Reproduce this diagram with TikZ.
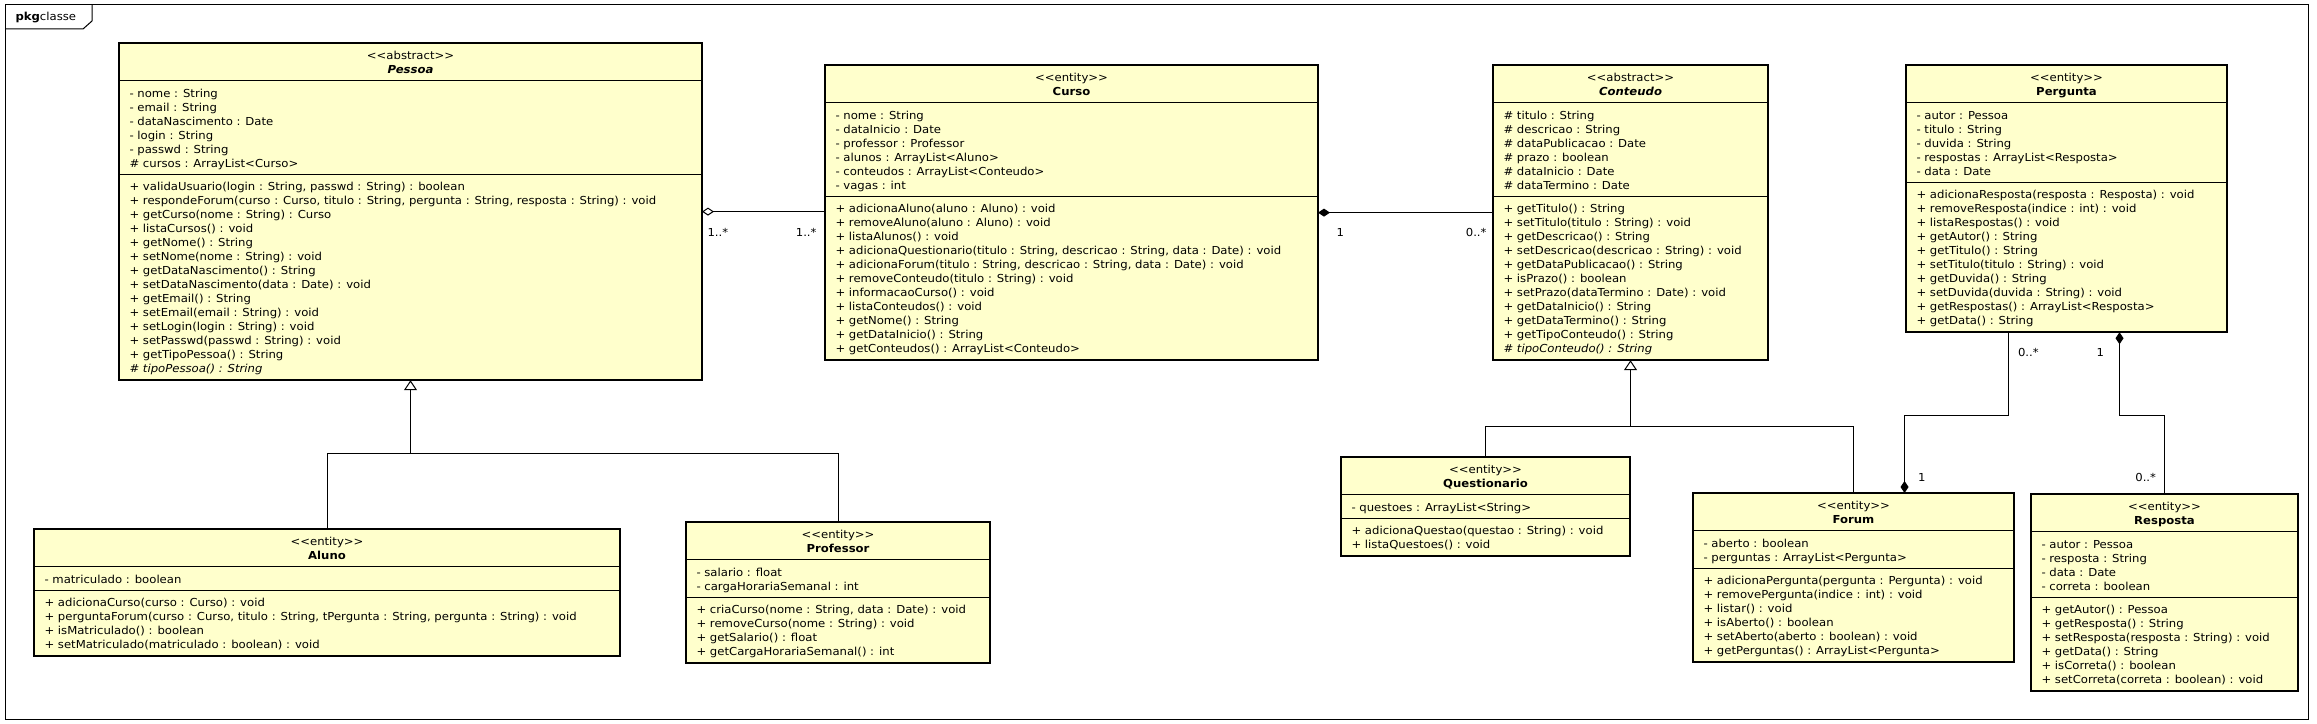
\documentclass[tikz,border=0pt]{standalone}
\usepackage{fontspec}
\usepackage{array}
\newfontfamily\umlfont{DejaVu Sans}[FakeStretch=1.06]
\usetikzlibrary{shapes.multipart,arrows.meta,positioning}

\definecolor{classfill}{RGB}{255,255,204}
\renewcommand{\arraystretch}{0}
\newcommand{\lstrut}{\rule[-2.5bp]{0pt}{14bp}}
\newcommand{\stereo}[1]{<\kern0pt<#1>\kern0pt>}
\newcommand{\hdr}[2]{\begin{tabular}{@{}>{\lstrut}c@{}}\stereo{#1}\\\textbf{#2}\end{tabular}}
\newcommand{\rows}[1]{\begin{tabular}{@{}>{\lstrut}l@{}}#1\end{tabular}}

\tikzset{
  umlclass/.style={rectangle split, rectangle split parts=3, draw, fill=classfill,
    anchor=north west, inner xsep=10bp, inner ysep=4.2bp,
    rectangle split part align={center,left,left}},
  mult/.style={inner sep=0pt},
  inherit/.style={-{Triangle[open,length=10bp,width=13bp]}},
  aggr/.style={{Diamond[open,length=12bp,width=8bp]}-},
  compo/.style={{Diamond[length=12bp,width=8bp]}-},
}

\begin{document}
\begin{tikzpicture}[x=1bp, y=-1bp, line width=1bp, font=\umlfont\fontsize{11bp}{14bp}\selectfont]
\useasboundingbox (0,0) rectangle (2317,724);

% package frame
\draw (5,5) rectangle (2308,719);
\draw (5,29) -- (83,29) -- (92,21) -- (92,5);
\node [anchor=west, inner sep=0pt] (pkg) at (15,18) {\textbf{pkg}classe};

% classes
\node [umlclass, minimum width=582bp] (pessoa) at (119,43)
  {\hdr{abstract}{\textit{Pessoa}}
   \nodepart{two}\rows{- nome : String\\- email : String\\- dataNascimento : Date\\- login : String\\- passwd : String\\\# cursos : ArrayList<Curso>}
   \nodepart{three}\rows{+ validaUsuario(login : String, passwd : String) : boolean\\
     + respondeForum(curso : Curso, titulo : String, pergunta : String, resposta : String) : void\\
     + getCurso(nome : String) : Curso\\+ listaCursos() : void\\+ getNome() : String\\
     + setNome(nome : String) : void\\+ getDataNascimento() : String\\
     + setDataNascimento(data : Date) : void\\+ getEmail() : String\\
     + setEmail(email : String) : void\\+ setLogin(login : String) : void\\
     + setPasswd(passwd : String) : void\\+ getTipoPessoa() : String\\
     \textit{\# tipoPessoa() : String}}};

\node [umlclass, minimum width=492bp] (curso) at (825,65)
  {\hdr{entity}{Curso}
   \nodepart{two}\rows{- nome : String\\- dataInicio : Date\\- professor : Professor\\- alunos : ArrayList<Aluno>\\- conteudos : ArrayList<Conteudo>\\- vagas : int}
   \nodepart{three}\rows{+ adicionaAluno(aluno : Aluno) : void\\+ removeAluno(aluno : Aluno) : void\\
     + listaAlunos() : void\\
     + adicionaQuestionario(titulo : String, descricao : String, data : Date) : void\\
     + adicionaForum(titulo : String, descricao : String, data : Date) : void\\
     + removeConteudo(titulo : String) : void\\+ informacaoCurso() : void\\
     + listaConteudos() : void\\+ getNome() : String\\+ getDataInicio() : String\\
     + getConteudos() : ArrayList<Conteudo>}};

\node [umlclass, minimum width=274bp] (conteudo) at (1493,65)
  {\hdr{abstract}{\textit{Conteudo}}
   \nodepart{two}\rows{\# titulo : String\\\# descricao : String\\\# dataPublicacao : Date\\\# prazo : boolean\\\# dataInicio : Date\\\# dataTermino : Date}
   \nodepart{three}\rows{+ getTitulo() : String\\+ setTitulo(titulo : String) : void\\
     + getDescricao() : String\\+ setDescricao(descricao : String) : void\\
     + getDataPublicacao() : String\\+ isPrazo() : boolean\\
     + setPrazo(dataTermino : Date) : void\\+ getDataInicio() : String\\
     + getDataTermino() : String\\+ getTipoConteudo() : String\\
     \textit{\# tipoConteudo() : String}}};

\node [umlclass, minimum width=320bp] (pergunta) at (1906,65)
  {\hdr{entity}{Pergunta}
   \nodepart{two}\rows{- autor : Pessoa\\- titulo : String\\- duvida : String\\- respostas : ArrayList<Resposta>\\- data : Date}
   \nodepart{three}\rows{+ adicionaResposta(resposta : Resposta) : void\\
     + removeResposta(indice : int) : void\\+ listaRespostas() : void\\
     + getAutor() : String\\+ getTitulo() : String\\+ setTitulo(titulo : String) : void\\
     + getDuvida() : String\\+ setDuvida(duvida : String) : void\\
     + getRespostas() : ArrayList<Resposta>\\+ getData() : String}};

\node [umlclass, minimum width=585bp] (aluno) at (34,529)
  {\hdr{entity}{Aluno}
   \nodepart{two}\rows{- matriculado : boolean}
   \nodepart{three}\rows{+ adicionaCurso(curso : Curso) : void\\
     + perguntaForum(curso : Curso, titulo : String, tPergunta : String, pergunta : String) : void\\
     + isMatriculado() : boolean\\+ setMatriculado(matriculado : boolean) : void}};

\node [umlclass, minimum width=303bp] (professor) at (686,522)
  {\hdr{entity}{Professor}
   \nodepart{two}\rows{- salario : float\\- cargaHorariaSemanal : int}
   \nodepart{three}\rows{+ criaCurso(nome : String, data : Date) : void\\
     + removeCurso(nome : String) : void\\+ getSalario() : float\\
     + getCargaHorariaSemanal() : int}};

\node [umlclass, minimum width=288bp] (questionario) at (1341,457)
  {\hdr{entity}{Questionario}
   \nodepart{two}\rows{- questoes : ArrayList<String>}
   \nodepart{three}\rows{+ adicionaQuestao(questao : String) : void\\+ listaQuestoes() : void}};

\node [umlclass, minimum width=320bp] (forum) at (1693,493)
  {\hdr{entity}{Forum}
   \nodepart{two}\rows{- aberto : boolean\\- perguntas : ArrayList<Pergunta>}
   \nodepart{three}\rows{+ adicionaPergunta(pergunta : Pergunta) : void\\
     + removePergunta(indice : int) : void\\+ listar() : void\\+ isAberto() : boolean\\
     + setAberto(aberto : boolean) : void\\+ getPerguntas() : ArrayList<Pergunta>}};

\node [umlclass, minimum width=266bp] (resposta) at (2031,494)
  {\hdr{entity}{Resposta}
   \nodepart{two}\rows{- autor : Pessoa\\- resposta : String\\- data : Date\\- correta : boolean}
   \nodepart{three}\rows{+ getAutor() : Pessoa\\+ getResposta() : String\\
     + setResposta(resposta : String) : void\\+ getData() : String\\
     + isCorreta() : boolean\\+ setCorreta(correta : boolean) : void}};

\foreach \c in {pessoa,curso,conteudo,pergunta,aluno,professor,questionario,forum,resposta}
  \draw [line width=2bp] (\c.north west) rectangle (\c.south east);

% associations
\draw [aggr] (pessoa.east) -- node [mult, pos=0, anchor=west, xshift=5bp, yshift=-21bp] {1..*}
  node [mult, pos=1, anchor=east, xshift=-8bp, yshift=-21bp] {1..*} (pessoa.east -| curso.west);
\draw [compo] (curso.east) -- node [mult, pos=0, anchor=west, xshift=18bp, yshift=-20bp] {1}
  node [mult, pos=1, anchor=east, xshift=-6bp, yshift=-20bp] {0..*} (curso.east -| conteudo.west);

\coordinate (fpj) at ([xshift=-58bp, yshift=-83bp]pergunta.south);
\draw [compo] ([xshift=51bp]forum.north) |- node [mult, pos=0, anchor=west, xshift=13bp, yshift=16bp] {1} (fpj)
  -- node [mult, pos=1, anchor=west, xshift=9bp, yshift=-20bp] {0..*} ([xshift=-58bp]pergunta.south);
\coordinate (rpj) at ([xshift=53bp, yshift=-83bp]pergunta.south);
\draw [compo] ([xshift=53bp]pergunta.south) -- node [mult, pos=0, anchor=east, xshift=-15bp, yshift=-20bp] {1} (rpj)
  -| node [mult, pos=1, anchor=east, xshift=-8bp, yshift=17bp] {0..*} (resposta.north);

% inheritance
\coordinate (pj) at ([yshift=-73bp]pessoa.south);
\draw [inherit] (aluno.north) |- (pj) -- (pessoa.south);
\draw (professor.north) |- (pj);
\coordinate (cj) at ([yshift=-66bp]conteudo.south);
\draw [inherit] (questionario.north) |- (cj) -- (conteudo.south);
\draw (forum.north) |- (cj);
\end{tikzpicture}
\end{document}
